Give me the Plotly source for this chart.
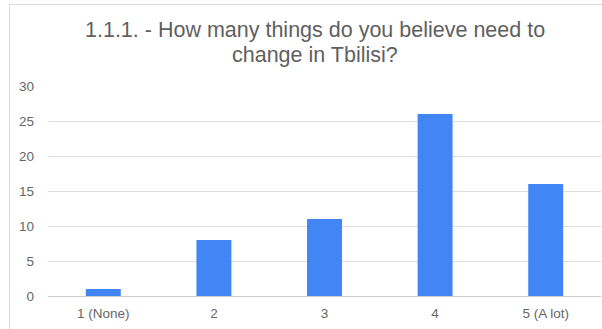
import plotly.graph_objects as go

categories = ["1 (None)", "2", "3", "4", "5 (A lot)"]
counts = [1, 8, 11, 26, 16]
y_ticks = [0, 5, 10, 15, 20, 25, 30]
title_lines = ["1.1.1. - How many things do you believe need to", "change in Tbilisi?"]

W, H = 602, 329
L, R, T, B = 48, 1, 86, 33
pw, ph = W - L - R, H - T - B

def px_x(px):
    return (px - L) / pw

def px_y(py):
    return (H - B - py) / ph

fig = go.Figure(
    go.Bar(
        x=categories,
        y=counts,
        marker=dict(color="#4285F4", line=dict(width=0)),
        width=0.316,
    )
)

font_family = "Arial, Liberation Sans, sans-serif"

fig.update_layout(
    width=W,
    height=H,
    margin=dict(l=L, r=R, t=T, b=B, pad=0),
    paper_bgcolor="white",
    plot_bgcolor="white",
    showlegend=False,
    font=dict(family=font_family, color="#666666", size=13),
    xaxis=dict(
        type="category",
        showgrid=False,
        showline=False,
        ticks="",
        tickfont=dict(size=13.5, color="#666666"),
        ticklabelstandoff=7,
    ),
    yaxis=dict(
        range=[0, 30],
        tickvals=y_ticks,
        showgrid=True,
        gridcolor="#dedede",
        gridwidth=1,
        zeroline=True,
        zerolinecolor="#cccccc",
        zerolinewidth=1,
        showline=False,
        ticks="",
        tickfont=dict(size=13.5, color="#666666"),
        ticklabelstandoff=13,
    ),
)

title_centers = [29.5, 54.5]
for line, cy in zip(title_lines, title_centers):
    fig.add_annotation(
        text=line,
        xref="paper", yref="paper",
        x=px_x(315), y=px_y(cy),
        xanchor="center", yanchor="middle",
        showarrow=False,
        font=dict(family=font_family, size=21.5, color="#5f5f5f"),
    )

# outer card border (top and left edges visible)
fig.add_shape(type="line", xref="paper", yref="paper",
              x0=px_x(9.5), y0=px_y(4.5), x1=px_x(W + 5), y1=px_y(4.5),
              line=dict(color="#dadada", width=1))
fig.add_shape(type="line", xref="paper", yref="paper",
              x0=px_x(9.5), y0=px_y(4.5), x1=px_x(9.5), y1=px_y(H + 5),
              line=dict(color="#dadada", width=1))

fig.write_html("out.html")
